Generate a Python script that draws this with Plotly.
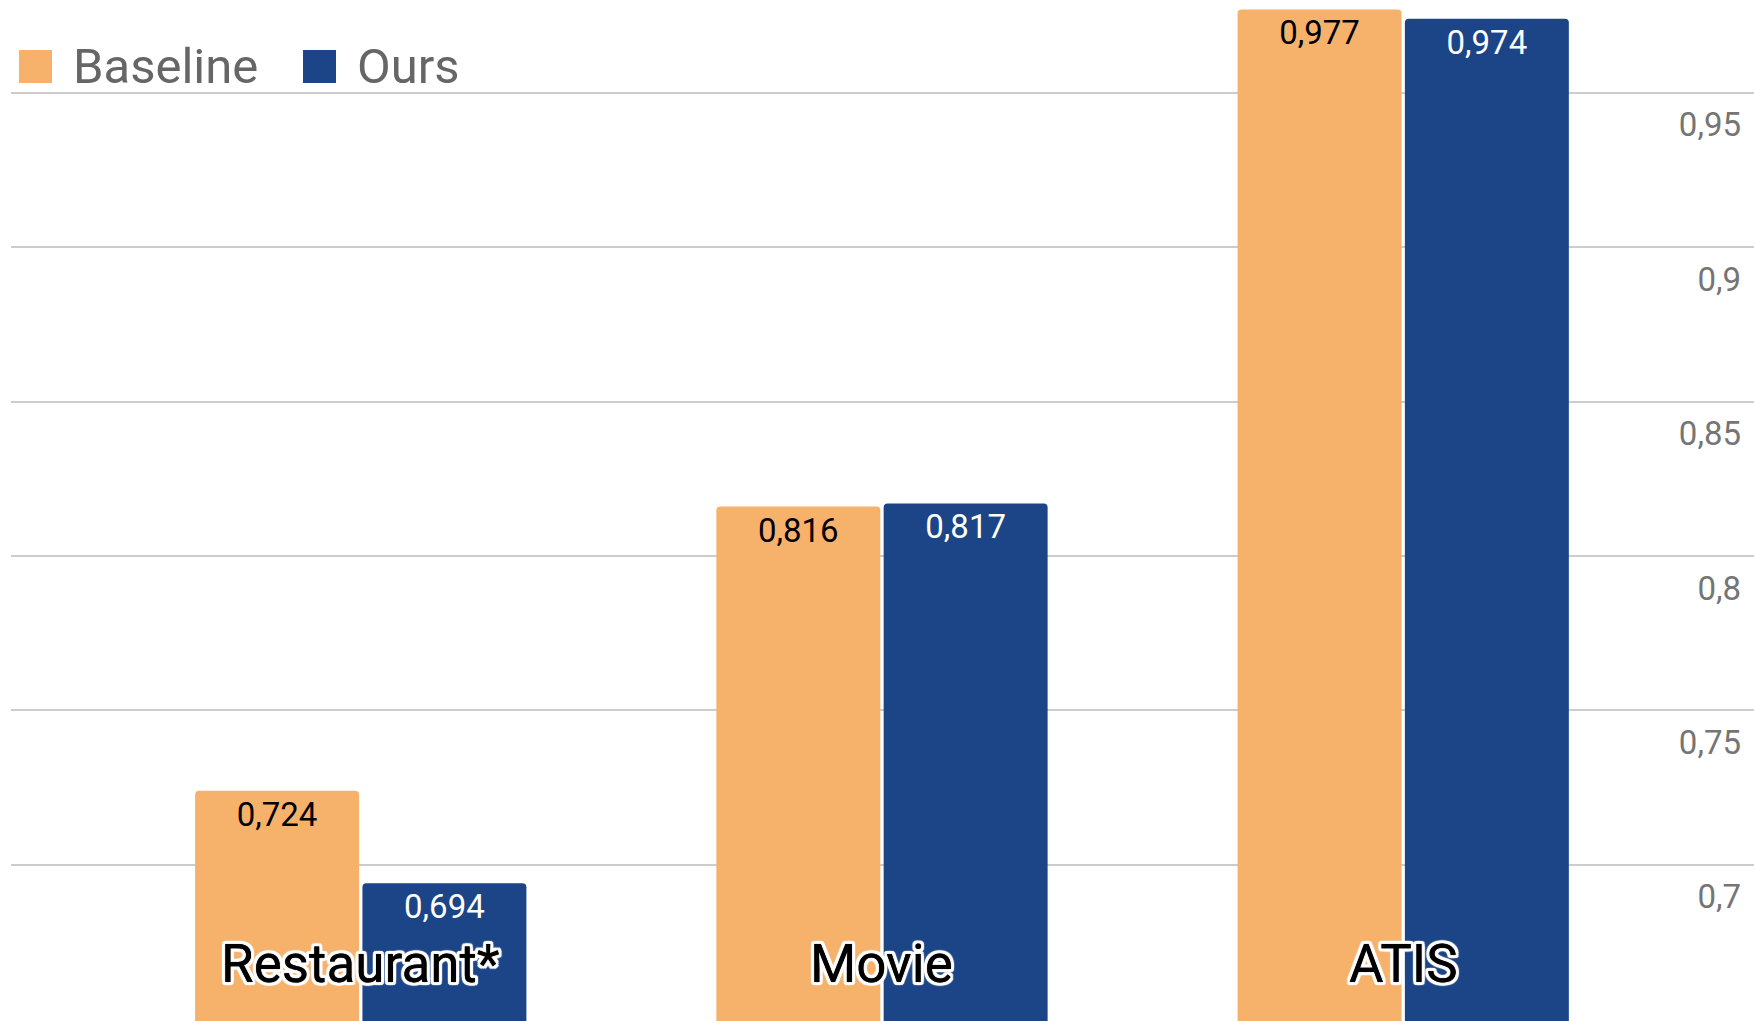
import plotly.graph_objects as go

categories = ["Restaurant*", "Movie", "ATIS"]
baseline = [0.724, 0.816, 0.977]
ours = [0.694, 0.817, 0.974]
series_names = ["Baseline", "Ours"]
series_colors = ["#F6B26B", "#1C4587"]
text_colors = ["#000000", "#FFFFFF"]
tick_vals = [0.7, 0.75, 0.8, 0.85, 0.9, 0.95]
tick_text = ["0,7", "0,75", "0,8", "0,85", "0,9", "0,95"]

FONT = "Roboto"
W, H, ML = 1754, 1021, 11

fig = go.Figure()
for name, vals, col, tcol in zip(series_names, [baseline, ours], series_colors, text_colors):
    fig.add_trace(go.Bar(
        x=categories, y=vals, name=name,
        marker=dict(color=col, line=dict(width=0), cornerradius=4),
        texttemplate="%{y:.3f}", textposition="inside", insidetextanchor="end",
        textangle=0, constraintext="none",
        textfont=dict(family=FONT, size=33, color=tcol),
        showlegend=False,
    ))

# category labels inside the plot, near the bottom (black text, white halo)
halo = [f"{dx}px {dy}px 1px white" for dx in (-3, -2, 0, 2, 3) for dy in (-3, -2, 0, 2, 3)
        if (dx, dy) != (0, 0) and abs(dx) + abs(dy) <= 5]
outline = ",".join(["0 0 0.8px black"] + halo)
for c in categories:
    fig.add_annotation(
        x=c, y=0.668, xref="x", yref="y", text=c, showarrow=False,
        font=dict(family=FONT, size=53, color="#000000", weight=400, shadow=outline),
        xanchor="center", yanchor="middle",
    )

# manual legend (pixel positions converted to paper coords)
def px(x):
    return (x - ML) / (W - ML)

leg_sq = [19, 303]
for i, (name, col) in enumerate(zip(series_names, series_colors)):
    x0 = leg_sq[i]
    fig.add_shape(type="rect", xref="paper", yref="paper",
                  x0=px(x0), x1=px(x0 + 33), y0=1 - 83 / H, y1=1 - 50 / H,
                  fillcolor=col, line=dict(width=0), layer="above")
    fig.add_annotation(x=px(x0 + 55), y=1 - 66 / H, xref="paper", yref="paper",
                       text=name, showarrow=False, xanchor="left", yanchor="middle",
                       xshift=-3,
                       font=dict(family=FONT, size=49, color="#666666"))

fig.update_layout(
    width=W, height=H,
    margin=dict(l=ML, r=0, t=0, b=0),
    paper_bgcolor="white", plot_bgcolor="white",
    barmode="group", bargap=0.358, bargroupgap=0.02,
    separators=",.",
    font=dict(family=FONT),
    xaxis=dict(range=[-0.671, 2.673], showticklabels=False, showgrid=False,
               zeroline=False, showline=False, ticks=""),
    yaxis=dict(range=[0.6494, 0.98005], side="right", tickvals=tick_vals, ticktext=tick_text,
               ticklabelposition="inside bottom", showgrid=True, gridcolor="#cccccc",
               gridwidth=2, zeroline=False, showline=False, ticks="",
               tickfont=dict(family=FONT, size=33, color="#757575"),
               ticklabelstandoff=10, ticklabelshift=9),
)

fig.write_html("out.html", config={"displayModeBar": False},
               post_script="document.body.style.margin='0';")
